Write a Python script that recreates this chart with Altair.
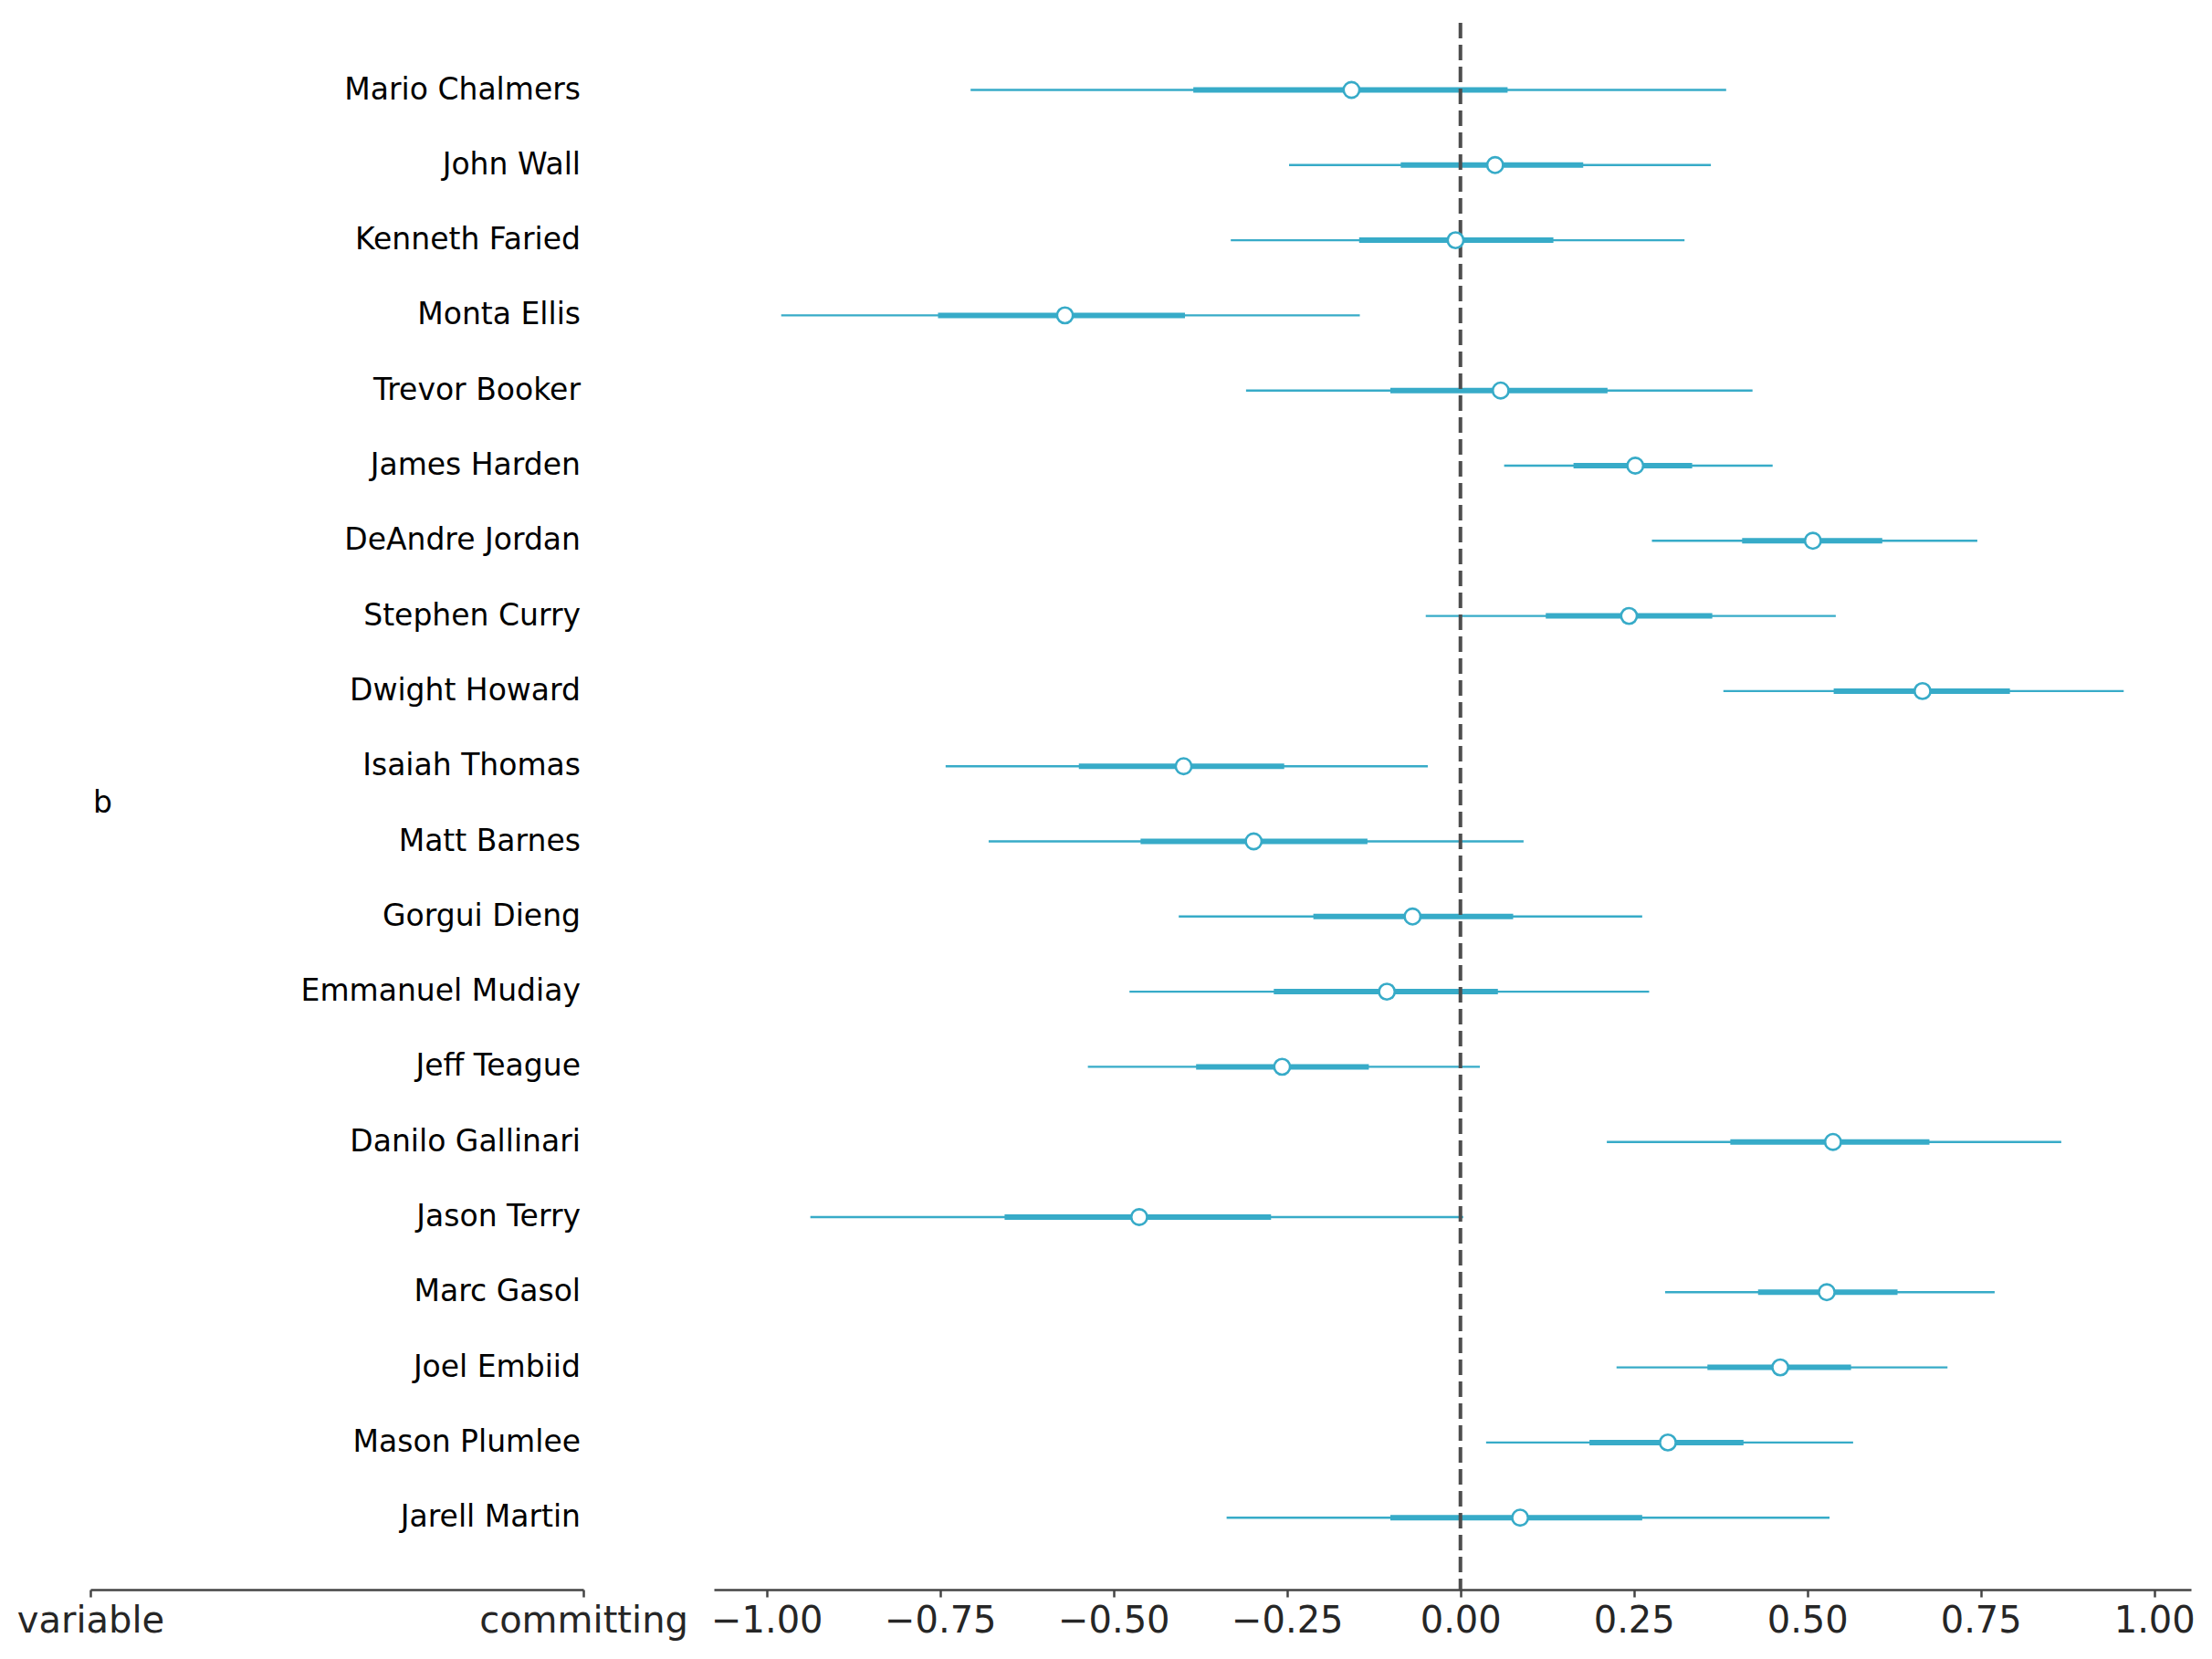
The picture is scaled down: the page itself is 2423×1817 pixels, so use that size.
import altair as alt
import pandas as pd

# Posterior summaries of the per-player coefficient "b"
players = [
    "Mario Chalmers", "John Wall", "Kenneth Faried", "Monta Ellis", "Trevor Booker",
    "James Harden", "DeAndre Jordan", "Stephen Curry", "Dwight Howard", "Isaiah Thomas",
    "Matt Barnes", "Gorgui Dieng", "Emmanuel Mudiay", "Jeff Teague", "Danilo Gallinari",
    "Jason Terry", "Marc Gasol", "Joel Embiid", "Mason Plumlee", "Jarell Martin",
]
median = [-0.157, 0.050, -0.007, -0.570, 0.058, 0.252, 0.508, 0.243, 0.666, -0.399,
          -0.298, -0.069, -0.106, -0.257, 0.537, -0.463, 0.528, 0.461, 0.299, 0.086]
hdi94_low = [-0.706, -0.247, -0.331, -0.979, -0.309, 0.063, 0.276, -0.050, 0.379, -0.742,
             -0.680, -0.406, -0.477, -0.537, 0.211, -0.937, 0.295, 0.225, 0.037, -0.337]
hdi94_high = [0.383, 0.361, 0.323, -0.145, 0.421, 0.450, 0.745, 0.541, 0.956, -0.047,
              0.091, 0.262, 0.272, 0.028, 0.866, 0.004, 0.770, 0.702, 0.566, 0.532]
iqr_low = [-0.385, -0.086, -0.146, -0.753, -0.101, 0.163, 0.406, 0.123, 0.538, -0.550,
           -0.461, -0.212, -0.269, -0.381, 0.389, -0.657, 0.429, 0.356, 0.186, -0.101]
iqr_high = [0.068, 0.177, 0.134, -0.397, 0.212, 0.334, 0.608, 0.363, 0.792, -0.254,
            -0.134, 0.076, 0.054, -0.132, 0.676, -0.273, 0.630, 0.563, 0.408, 0.262]

left_ticks = ["variable", "committing"]
var_name = "b"

df = pd.DataFrame({
    "player": players,
    "row": list(range(len(players))),
    "median": median,
    "lo": hdi94_low,
    "hi": hdi94_high,
    "q1": iqr_low,
    "q3": iqr_high,
})

LINE = "#37abc8"
H = 1716
ROW_PX = 82.3
TOP_PX = 73.5
y_dom = [-TOP_PX / ROW_PX, (H - TOP_PX) / ROW_PX]
yscale = alt.Scale(domain=y_dom, reverse=True, nice=False, zero=False)
y_enc = alt.Y("row:Q", scale=yscale, axis=None)

axis_style = dict(
    labelFont="DejaVu Sans", labelFontSize=40, labelColor="#262626",
    domainColor="#444444", domainWidth=2.5, tickColor="#444444",
    tickWidth=2.5, tickSize=8, labelPadding=6, grid=False, title=None,
    labelFlush=False, labelLimit=600, labelOverlap=False,
)

# Left panel: player labels and variable name
base_left = alt.Chart(df).encode(y=y_enc)
left_scale = alt.Scale(domain=[0, 1], nice=False, zero=False)
names = base_left.mark_text(
    align="right", baseline="middle", font="DejaVu Sans", fontSize=33,
    color="black", dx=-3,
).encode(
    x=alt.X("one:Q", scale=left_scale,
            axis=alt.Axis(values=[0, 1],
                          labelExpr=f"datum.value == 0 ? '{left_ticks[0]}' : '{left_ticks[1]}'",
                          **axis_style)),
    text="player:N",
).transform_calculate(one="1")

var_df = pd.DataFrame({"label": [var_name], "row": [(len(players) - 1) / 2], "x": [0]})
var_text = alt.Chart(var_df).mark_text(
    align="left", baseline="middle", font="DejaVu Sans", fontSize=33,
    color="black", dx=3,
).encode(
    x=alt.X("x:Q", scale=left_scale),
    y=alt.Y("row:Q", scale=yscale, axis=None),
    text="label:N",
)

left = alt.layer(names, var_text).properties(width=540, height=H)

# Right panel: forest plot
xscale = alt.Scale(domain=[-1.076, 1.053], nice=False, zero=False)
x_axis = alt.Axis(values=[-1, -0.75, -0.5, -0.25, 0, 0.25, 0.5, 0.75, 1],
                  format=".2f", **axis_style)
base = alt.Chart(df).encode(y=y_enc)

thin = base.mark_rule(color=LINE, strokeWidth=2.4).encode(
    x=alt.X("lo:Q", scale=xscale, axis=x_axis), x2="hi:Q")
thick = base.mark_rule(color=LINE, strokeWidth=6).encode(
    x=alt.X("q1:Q", scale=xscale), x2="q3:Q")
ref = alt.Chart(pd.DataFrame({"ref": [0.0]})).mark_rule(
    color="#4d4d4d", strokeWidth=4, strokeDash=[17, 7]
).encode(x=alt.X("ref:Q", scale=xscale))
points = base.mark_point(
    shape="circle", filled=True, fill="white", stroke=LINE, strokeWidth=2.6,
    size=300, opacity=1,
).encode(x=alt.X("median:Q", scale=xscale))

right = alt.layer(thin, thick, ref, points).properties(width=1618, height=H)

chart = alt.hconcat(left, right, spacing=143, bounds="flush").properties(
    padding={"left": 18, "top": 23, "right": 10, "bottom": 10},
    background="white",
).configure_view(stroke=None)

chart.save("out.html", embed_options={"renderer": "svg", "actions": False})
